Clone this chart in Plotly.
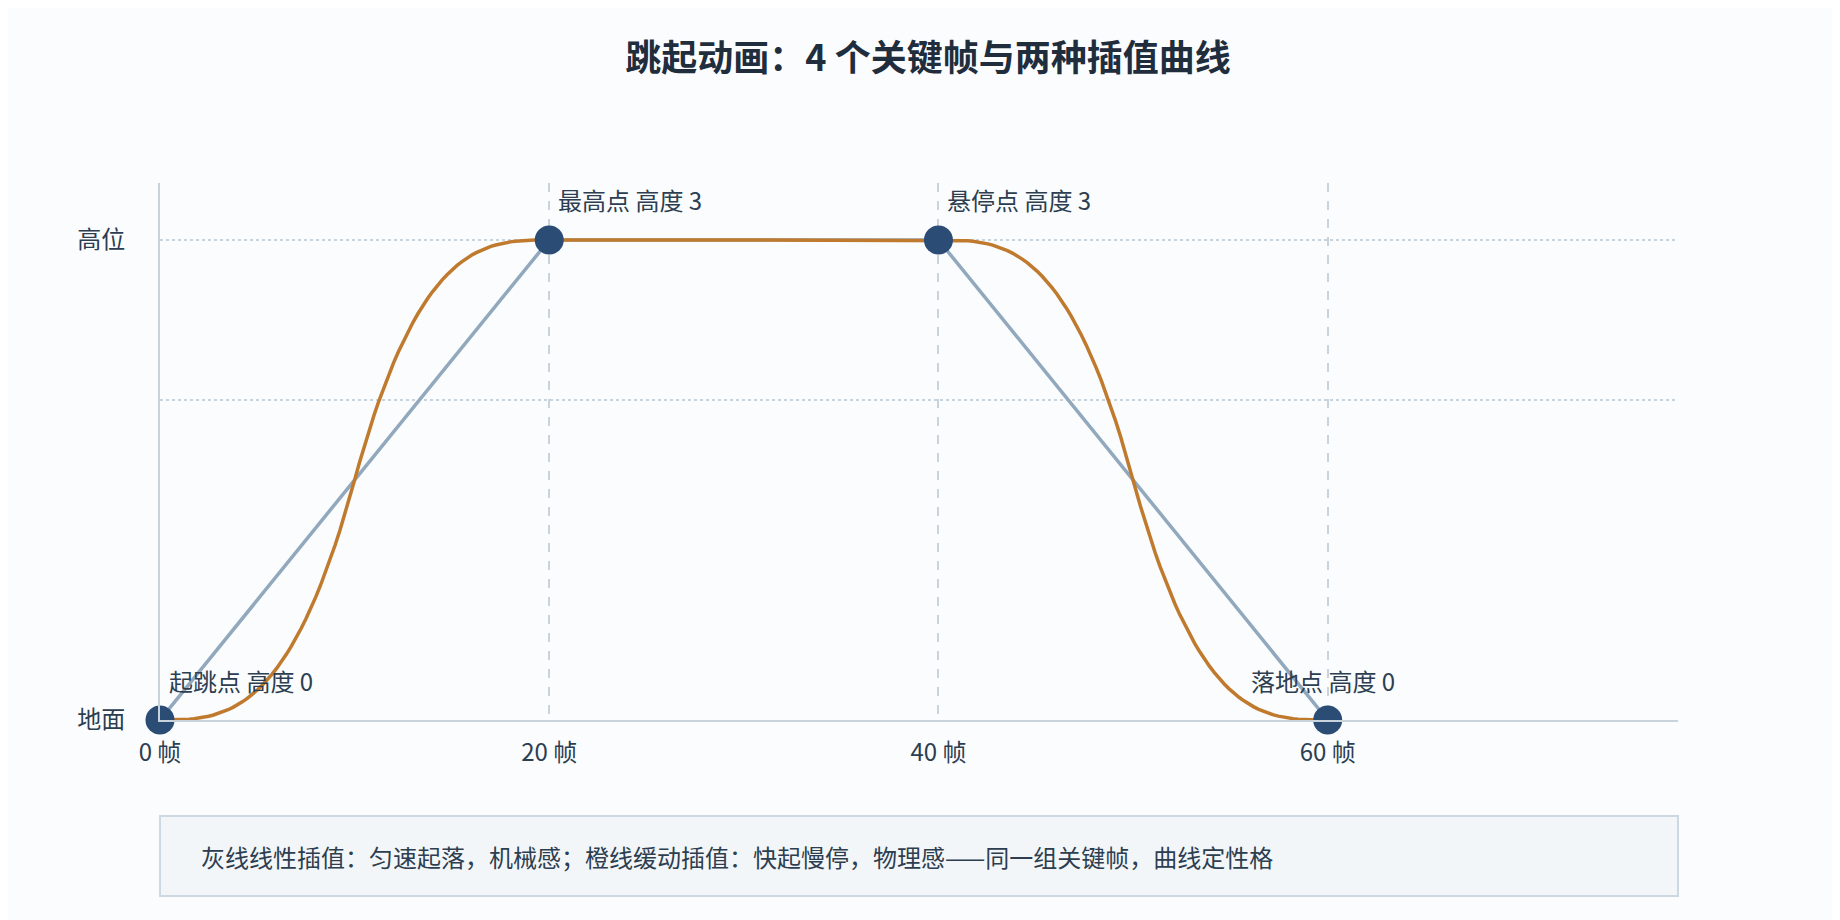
import numpy as np
import plotly.graph_objects as go

key_frames = [0, 20, 40, 60]
key_heights = [0, 3, 3, 0]
key_labels = ["起跳点 高度 0", "最高点 高度 3", "悬停点 高度 3", "落地点 高度 0"]
x_ticks = [0, 20, 40, 60]
x_tick_text = ["0 帧", "20 帧", "40 帧", "60 帧"]
y_ticks = [0, 2, 3]
y_tick_text = ["地面", "", "高位"]
title = "跳起动画：4 个关键帧与两种插值曲线"
note = "灰线线性插值：匀速起落，机械感；橙线缓动插值：快起慢停，物理感——同一组关键帧，曲线定性格"

# eased (ease-in-out cubic) interpolation between the keyframes
ex, ey = [], []
for i in range(len(key_frames) - 1):
    t = np.linspace(0, 1, 80, endpoint=(i == len(key_frames) - 2))
    s = np.where(t < 0.5, 4 * t ** 3, 1 - (-2 * t + 2) ** 3 / 2)
    ex += list(key_frames[i] + (key_frames[i + 1] - key_frames[i]) * t)
    ey += list(key_heights[i] + (key_heights[i + 1] - key_heights[i]) * s)

font = "Noto Sans CJK SC"
fig = go.Figure()
fig.add_trace(go.Scatter(x=key_frames, y=key_heights, mode="lines",
                         line=dict(color="#91a8bd", width=3.5), cliponaxis=False))
fig.add_trace(go.Scatter(x=ex, y=ey, mode="lines",
                         line=dict(color="#c07a2e", width=3.5), cliponaxis=False))
fig.add_trace(go.Scatter(x=key_frames, y=key_heights, mode="markers",
                         marker=dict(color="#2b4c74", size=29), cliponaxis=False))

for i, (x, y, lab) in enumerate(zip(key_frames, key_heights, key_labels)):
    last = i == len(key_frames) - 1
    fig.add_annotation(x=x, y=y, text=lab, showarrow=False,
                       xanchor="center" if last else "left",
                       xshift=-5 if last else 7, yshift=40, yanchor="middle",
                       font=dict(size=24, color="#2c3e50", family=font))

# rounded footer box
H = 920 - 175 - 208
y0, y1 = -(808 - (920 - 208)) / H, -(888 - (920 - 208)) / H
fig.add_shape(type="rect", xref="paper", yref="paper", x0=0, x1=1, y0=y1, y1=y0,
              line=dict(color="#cdd8e2", width=2), fillcolor="#f3f6f9", layer="below")
fig.add_annotation(xref="paper", yref="paper", x=0.026, y=(y0 + y1) / 2, text=note, showarrow=False,
                   xanchor="left", yanchor="middle",
                   font=dict(size=24, color="#2c3e50", family=font))

fig.update_layout(
    width=1840, height=920,
    paper_bgcolor="#fafcfe", plot_bgcolor="#fafcfe",
    margin=dict(l=152, r=170, t=175, b=208),
    showlegend=False,
    title=dict(text="<b>" + title + "</b>", x=0.5, xanchor="center", y=0.945, yanchor="middle",
               font=dict(size=36, color="#1f2d3d", family=font)),
    font=dict(family=font, color="#2c3e50", size=25),
    xaxis=dict(range=[0, 78], tickvals=x_ticks, ticktext=x_tick_text, showgrid=True,
               gridcolor="#c9d3dc", griddash="dash", gridwidth=1.5, zeroline=False,
               showline=True, linecolor="#c9d3dc", linewidth=2, ticks="outside", ticklen=10,
               tickcolor="rgba(0,0,0,0)", tickfont=dict(size=24)),
    yaxis=dict(range=[0, 3.356], tickvals=y_ticks, ticktext=y_tick_text, showgrid=True,
               gridcolor="#c9d3dc", griddash="dot", gridwidth=1.5, zeroline=False,
               showline=True, linecolor="#c9d3dc", linewidth=2, ticks="outside",
               ticklen=28, tickcolor="rgba(0,0,0,0)", tickfont=dict(size=24)),
)
fig.write_html("out.html")
